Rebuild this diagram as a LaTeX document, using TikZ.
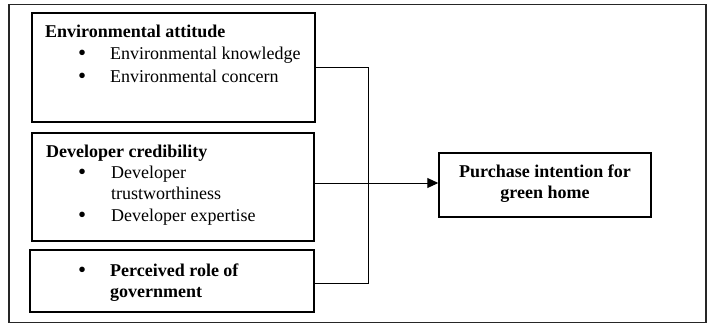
\documentclass[tikz,border=0pt]{standalone}
\usepackage{fontspec}
\setmainfont{Liberation Serif}
\usetikzlibrary{arrows.meta}
\tikzset{
  box/.style={draw=black, line width=1.5pt, inner sep=0pt},
  txt/.style={anchor=base west, inner sep=0pt, font=\fontsize{18}{21}\selectfont},
  btxt/.style={txt, font=\fontsize{18}{21}\selectfont\bfseries},
  dot/.style={anchor=base west, inner sep=0pt, font=\fontsize{23}{21}\selectfont},
  conn/.style={draw=black, line width=1pt},
}
\begin{document}
\begin{tikzpicture}[x=1pt,y=-1pt]
\useasboundingbox (0,0) rectangle (709,325);
% outer frame
\node[draw=black!85, line width=1.2pt, minimum width=697pt, minimum height=318pt, inner sep=0pt] (frame) at (357.5,163.5) {};
% boxes
\node[box, minimum width=283pt, minimum height=109pt] (b1) at (173.5,67.5) {};
\node[box, minimum width=282pt, minimum height=108pt] (b2) at (173,187) {};
\node[box, minimum width=284pt, minimum height=62pt] (b3) at (172,281) {};
\node[box, minimum width=212pt, minimum height=64pt] (t) at (545,185) {};
% box 1 text
\node[btxt] (h1) at (45,37) {Environmental attitude};
\node[dot] (d11) at (78,60) {•};
\node[txt] (e11) at (110,59) {Environmental knowledge};
\node[dot] (d12) at (78,83) {•};
\node[txt] (e12) at (110,82) {Environmental concern};
% box 2 text
\node[btxt] (h2) at (46,157) {Developer credibility};
\node[dot] (d21) at (78,179) {•};
\node[txt] (e21) at (111,178) {Developer};
\node[txt] (e22) at (111,199) {trustworthiness};
\node[dot] (d22) at (78,222) {•};
\node[txt] (e23) at (111,221) {Developer expertise};
% box 3 text
\node[dot] (d31) at (78,277) {•};
\node[btxt] (e31) at (110,276) {Perceived role of};
\node[btxt] (e32) at (110,297) {government};
% target text
\node[anchor=base, inner sep=0pt, font=\fontsize{18}{21}\selectfont\bfseries] (tt1) at (545,177) {Purchase intention for};
\node[anchor=base, inner sep=0pt, font=\fontsize{18}{21}\selectfont\bfseries] (tt2) at (545,198) {green home};
% connectors
\coordinate (top) at (368,67.5);
\coordinate (mid) at (368,183);
\coordinate (bot) at (368,283);
\draw[conn] (b1.east) -- (top) -- (bot) -- (b3.east |- bot);
\draw[conn, -{Triangle[length=11pt,width=10pt]}] (b2.east |- mid) -- (t.west |- mid);
\end{tikzpicture}
\end{document}
